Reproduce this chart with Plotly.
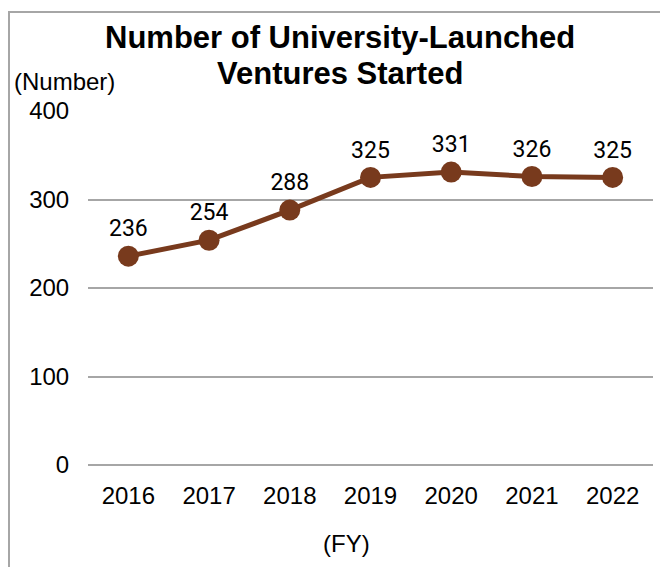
import plotly.graph_objects as go

# Data
years = ["2016", "2017", "2018", "2019", "2020", "2021", "2022"]
ventures = [236, 254, 288, 325, 331, 326, 325]
y_ticks = [0, 100, 200, 300, 400]

# page has an 8px body margin, so figure coords = screen coords - 8
OFF = 8
W, H = 668, 567
L, R, T, B = 88 - OFF, 23, 111 - OFF, 567 - (465 - OFF)
pw, ph = W - L - R, H - T - B

def px_x(x):
    return (x - OFF - L) / pw

def px_y(y):
    return (H - B - (y - OFF)) / ph

brown = "#783A1D"
base_font = "Liberation Sans, Arial, sans-serif"

fig = go.Figure()
fig.add_trace(go.Scatter(
    x=years, y=ventures,
    mode="lines+markers+text",
    line=dict(color=brown, width=5),
    marker=dict(color=brown, size=21),
    text=[str(v) for v in ventures],
    textposition="top center",
    textfont=dict(family="Liberation Sans Narrow, Roboto, Arial", size=23, color="#000000"),
    cliponaxis=False,
    showlegend=False,
))

# outer frame
fig.add_shape(type="rect", xref="paper", yref="paper",
              x0=px_x(9), x1=px_x(667), y0=px_y(640), y1=px_y(12),
              line=dict(color="#A6A6A6", width=2), layer="below")

fig.add_annotation(text="<b>Number of University-Launched</b>",
                   xref="paper", yref="paper", x=px_x(340), y=px_y(37),
                   showarrow=False, xanchor="center", yanchor="middle",
                   font=dict(family=base_font, size=31, color="#000000"))
fig.add_annotation(text="<b>Ventures Started</b>",
                   xref="paper", yref="paper", x=px_x(340), y=px_y(73),
                   showarrow=False, xanchor="center", yanchor="middle",
                   font=dict(family=base_font, size=31, color="#000000"))
fig.add_annotation(text="(Number)", xref="paper", yref="paper",
                   x=px_x(12), y=px_y(82), showarrow=False,
                   xanchor="left", yanchor="middle",
                   font=dict(family=base_font, size=24, color="#000000"))
fig.add_annotation(text="(FY)", xref="paper", yref="paper",
                   x=px_x(346), y=px_y(543), showarrow=False,
                   xanchor="center", yanchor="middle",
                   font=dict(family=base_font, size=24, color="#000000"))

fig.update_layout(
    width=W, height=H,
    margin=dict(l=L, r=R, t=T, b=B),
    paper_bgcolor="white", plot_bgcolor="white",
    font=dict(family=base_font, size=24, color="#000000"),
    xaxis=dict(type="category", range=[-0.5, 6.5], showgrid=False,
               showline=False, zeroline=False, ticks="outside",
               ticklen=9, tickcolor="rgba(0,0,0,0)",
               tickfont=dict(size=24)),
    yaxis=dict(range=[0, 400], tickvals=y_ticks, showgrid=True,
               gridcolor="#A6A6A6", gridwidth=1.5, zeroline=True,
               zerolinecolor="#A6A6A6", zerolinewidth=1.5, showline=False,
               ticks="outside", ticklen=13, tickcolor="rgba(0,0,0,0)",
               tickfont=dict(size=24)),
)

fig.write_html("out.html")
